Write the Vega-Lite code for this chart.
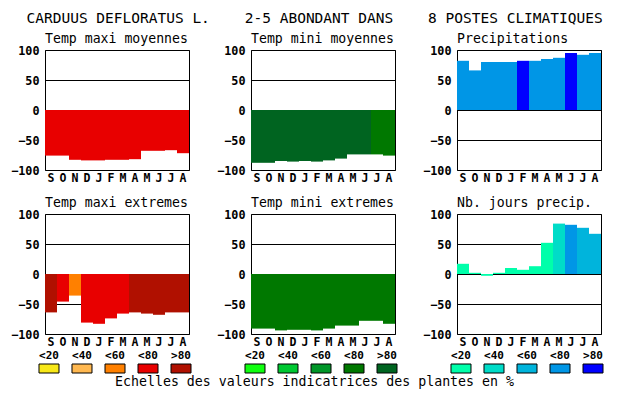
{
  "$schema": "https://vega.github.io/schema/vega-lite/v6.json",
  "background": "white",
  "padding": {"left": 10, "top": 10, "right": 10, "bottom": 2},
  "config": {
    "font": "DejaVu Sans Mono",
    "view": {"stroke": "black", "strokeWidth": 1},
    "title": {"color": "black", "fontWeight": "normal", "font": "DejaVu Sans Mono"},
    "axis": {"labelColor": "black", "labelFont": "DejaVu Sans Mono", "labelFontWeight": "bold", "ticks": false, "domain": false, "title": null},
    "axisY": {"values": [-100, -50, 0, 50, 100], "grid": true, "gridColor": "black", "gridOpacity": 1, "gridWidth": 1, "labelFontSize": 11.75, "labelPadding": 6, "labelFlush": false, "zindex": 1},
    "axisX": {"labelAngle": 0, "labelFontSize": 11.5, "labelPadding": 2, "grid": false},
    "bar": {"strokeWidth": 0}
  },
  "title": {"text": "CARDUUS DEFLORATUS L.\u00a0\u00a0\u00a0\u00a02-5 ABONDANT DANS\u00a0\u00a0\u00a0\u00a08 POSTES CLIMATIQUES", "fontSize": 14.5, "anchor": "middle", "offset": 5, "dx": 5},
  "datasets": {
    "tmaxmoy": [
      {"mois": "Sept", "v": -76, "cls": "<80"}, {"mois": "Oct", "v": -76, "cls": "<80"}, {"mois": "Nov", "v": -83, "cls": "<80"},
      {"mois": "Déc", "v": -84, "cls": "<80"}, {"mois": "Janv", "v": -84, "cls": "<80"}, {"mois": "Févr", "v": -83, "cls": "<80"},
      {"mois": "Mars", "v": -83, "cls": "<80"}, {"mois": "Avr", "v": -82, "cls": "<80"}, {"mois": "Mai", "v": -68, "cls": "<80"},
      {"mois": "Juin", "v": -68, "cls": "<80"}, {"mois": "Juil", "v": -67, "cls": "<80"}, {"mois": "Août", "v": -72, "cls": "<80"}
    ],
    "tminmoy": [
      {"mois": "Sept", "v": -88, "cls": ">80"}, {"mois": "Oct", "v": -88, "cls": ">80"}, {"mois": "Nov", "v": -85, "cls": ">80"},
      {"mois": "Déc", "v": -86, "cls": ">80"}, {"mois": "Janv", "v": -85, "cls": ">80"}, {"mois": "Févr", "v": -86, "cls": ">80"},
      {"mois": "Mars", "v": -84, "cls": ">80"}, {"mois": "Avr", "v": -81, "cls": ">80"}, {"mois": "Mai", "v": -74, "cls": ">80"},
      {"mois": "Juin", "v": -74, "cls": ">80"}, {"mois": "Juil", "v": -74, "cls": "<80"}, {"mois": "Août", "v": -76, "cls": "<80"}
    ],
    "precip": [
      {"mois": "Sept", "v": 82, "cls": "<80"}, {"mois": "Oct", "v": 66, "cls": "<80"}, {"mois": "Nov", "v": 80, "cls": "<80"},
      {"mois": "Déc", "v": 80, "cls": "<80"}, {"mois": "Janv", "v": 80, "cls": "<80"}, {"mois": "Févr", "v": 82, "cls": ">80"},
      {"mois": "Mars", "v": 82, "cls": "<80"}, {"mois": "Avr", "v": 85, "cls": "<80"}, {"mois": "Mai", "v": 87, "cls": "<80"},
      {"mois": "Juin", "v": 95, "cls": ">80"}, {"mois": "Juil", "v": 92, "cls": "<80"}, {"mois": "Août", "v": 95, "cls": "<80"}
    ],
    "tmaxext": [
      {"mois": "Sept", "v": -64, "cls": ">80"}, {"mois": "Oct", "v": -46, "cls": "<80"}, {"mois": "Nov", "v": -36, "cls": "<60"},
      {"mois": "Déc", "v": -81, "cls": "<80"}, {"mois": "Janv", "v": -83, "cls": "<80"}, {"mois": "Févr", "v": -74, "cls": "<80"},
      {"mois": "Mars", "v": -66, "cls": "<80"}, {"mois": "Avr", "v": -64, "cls": ">80"}, {"mois": "Mai", "v": -66, "cls": ">80"},
      {"mois": "Juin", "v": -68, "cls": ">80"}, {"mois": "Juil", "v": -64, "cls": ">80"}, {"mois": "Août", "v": -64, "cls": ">80"}
    ],
    "tminext": [
      {"mois": "Sept", "v": -91, "cls": "<80"}, {"mois": "Oct", "v": -91, "cls": "<80"}, {"mois": "Nov", "v": -94, "cls": "<80"},
      {"mois": "Déc", "v": -93, "cls": "<80"}, {"mois": "Janv", "v": -93, "cls": "<80"}, {"mois": "Févr", "v": -94, "cls": "<80"},
      {"mois": "Mars", "v": -91, "cls": "<80"}, {"mois": "Avr", "v": -86, "cls": "<80"}, {"mois": "Mai", "v": -86, "cls": "<80"},
      {"mois": "Juin", "v": -78, "cls": "<80"}, {"mois": "Juil", "v": -78, "cls": "<80"}, {"mois": "Août", "v": -83, "cls": "<80"}
    ],
    "njours": [
      {"mois": "Sept", "v": 17, "cls": "<20"}, {"mois": "Oct", "v": 2, "cls": "<20"}, {"mois": "Nov", "v": -3, "cls": "<20"},
      {"mois": "Déc", "v": 2, "cls": "<20"}, {"mois": "Janv", "v": 10, "cls": "<20"}, {"mois": "Févr", "v": 7, "cls": "<20"},
      {"mois": "Mars", "v": 13, "cls": "<20"}, {"mois": "Avr", "v": 52, "cls": "<20"}, {"mois": "Mai", "v": 84, "cls": "<40"},
      {"mois": "Juin", "v": 82, "cls": "<80"}, {"mois": "Juil", "v": 77, "cls": "<60"}, {"mois": "Août", "v": 67, "cls": "<60"}
    ],
    "classes": [{"cls": "<20"}, {"cls": "<40"}, {"cls": "<60"}, {"cls": "<80"}, {"cls": ">80"}]
  },
  "bounds": "flush",
  "columns": 3,
  "spacing": {"row": 44, "column": 54},
  "resolve": {"scale": {"color": "independent"}},
  "concat": [
    {
      "width": 144, "height": 120,
      "title": {"text": "Temp maxi moyennes", "anchor": "start", "frame": "group", "fontSize": 13.2, "offset": -1},
      "data": {"name": "tmaxmoy"},
      "mark": "bar",
      "encoding": {
        "x": {"field": "mois", "type": "nominal", "sort": ["Sept","Oct","Nov","Déc","Janv","Févr","Mars","Avr","Mai","Juin","Juil","Août"], "scale": {"paddingInner": 0, "paddingOuter": 0}, "axis": {"labelExpr": "upper(substring(datum.label,0,1))"}, "title": null},
        "y": {"field": "v", "type": "quantitative", "scale": {"domain": [-100, 100], "nice": false}, "title": null},
        "color": {"field": "cls", "type": "nominal", "scale": {"domain": ["<20","<40","<60","<80",">80"], "range": ["#f8e818","#ffb850","#ff8000","#e80000","#b01000"]}, "legend": null}
      }
    },
    {
      "width": 144, "height": 120,
      "title": {"text": "Temp mini moyennes", "anchor": "start", "frame": "group", "fontSize": 13.2, "offset": -1},
      "data": {"name": "tminmoy"},
      "mark": "bar",
      "encoding": {
        "x": {"field": "mois", "type": "nominal", "sort": ["Sept","Oct","Nov","Déc","Janv","Févr","Mars","Avr","Mai","Juin","Juil","Août"], "scale": {"paddingInner": 0, "paddingOuter": 0}, "axis": {"labelExpr": "upper(substring(datum.label,0,1))"}, "title": null},
        "y": {"field": "v", "type": "quantitative", "scale": {"domain": [-100, 100], "nice": false}, "title": null},
        "color": {"field": "cls", "type": "nominal", "scale": {"domain": ["<20","<40","<60","<80",">80"], "range": ["#10ff10","#00c832","#009628","#007800","#006420"]}, "legend": null}
      }
    },
    {
      "width": 144, "height": 120,
      "title": {"text": "Precipitations", "anchor": "start", "frame": "group", "fontSize": 13.2, "offset": -1},
      "data": {"name": "precip"},
      "mark": "bar",
      "encoding": {
        "x": {"field": "mois", "type": "nominal", "sort": ["Sept","Oct","Nov","Déc","Janv","Févr","Mars","Avr","Mai","Juin","Juil","Août"], "scale": {"paddingInner": 0, "paddingOuter": 0}, "axis": {"labelExpr": "upper(substring(datum.label,0,1))"}, "title": null},
        "y": {"field": "v", "type": "quantitative", "scale": {"domain": [-100, 100], "nice": false}, "title": null},
        "color": {"field": "cls", "type": "nominal", "scale": {"domain": ["<20","<40","<60","<80",">80"], "range": ["#00ffaa","#00dcc8","#00b4dc","#0096e6","#0000ff"]}, "legend": null}
      }
    },
    {
      "width": 144, "height": 120,
      "title": {"text": "Temp maxi extremes", "anchor": "start", "frame": "group", "fontSize": 13.2, "offset": -1},
      "data": {"name": "tmaxext"},
      "mark": "bar",
      "encoding": {
        "x": {"field": "mois", "type": "nominal", "sort": ["Sept","Oct","Nov","Déc","Janv","Févr","Mars","Avr","Mai","Juin","Juil","Août"], "scale": {"paddingInner": 0, "paddingOuter": 0}, "axis": {"labelExpr": "upper(substring(datum.label,0,1))"}, "title": null},
        "y": {"field": "v", "type": "quantitative", "scale": {"domain": [-100, 100], "nice": false}, "title": null},
        "color": {"field": "cls", "type": "nominal", "scale": {"domain": ["<20","<40","<60","<80",">80"], "range": ["#f8e818","#ffb850","#ff8000","#e80000","#b01000"]}, "legend": null}
      }
    },
    {
      "width": 144, "height": 120,
      "title": {"text": "Temp mini extremes", "anchor": "start", "frame": "group", "fontSize": 13.2, "offset": -1},
      "data": {"name": "tminext"},
      "mark": "bar",
      "encoding": {
        "x": {"field": "mois", "type": "nominal", "sort": ["Sept","Oct","Nov","Déc","Janv","Févr","Mars","Avr","Mai","Juin","Juil","Août"], "scale": {"paddingInner": 0, "paddingOuter": 0}, "axis": {"labelExpr": "upper(substring(datum.label,0,1))"}, "title": null},
        "y": {"field": "v", "type": "quantitative", "scale": {"domain": [-100, 100], "nice": false}, "title": null},
        "color": {"field": "cls", "type": "nominal", "scale": {"domain": ["<20","<40","<60","<80",">80"], "range": ["#10ff10","#00c832","#009628","#007800","#006420"]}, "legend": null}
      }
    },
    {
      "width": 144, "height": 120,
      "title": {"text": "Nb. jours precip.", "anchor": "start", "frame": "group", "fontSize": 13.2, "offset": -1},
      "data": {"name": "njours"},
      "mark": "bar",
      "encoding": {
        "x": {"field": "mois", "type": "nominal", "sort": ["Sept","Oct","Nov","Déc","Janv","Févr","Mars","Avr","Mai","Juin","Juil","Août"], "scale": {"paddingInner": 0, "paddingOuter": 0}, "axis": {"labelExpr": "upper(substring(datum.label,0,1))"}, "title": null},
        "y": {"field": "v", "type": "quantitative", "scale": {"domain": [-100, 100], "nice": false}, "title": null},
        "color": {"field": "cls", "type": "nominal", "scale": {"domain": ["<20","<40","<60","<80",">80"], "range": ["#00ffaa","#00dcc8","#00b4dc","#0096e6","#0000ff"]}, "legend": null}
      }
    },
    {
      "width": 152, "height": 9,
      "view": {"stroke": null},
      "data": {"name": "classes"},
      "mark": {"type": "point", "shape": "M-1,-0.45H1V0.45H-1Z", "size": 400, "filled": true, "opacity": 1, "stroke": "black", "strokeWidth": 1, "xOffset": -6, "yOffset": -14},
      "encoding": {
        "x": {"field": "cls", "type": "nominal", "sort": ["<20","<40","<60","<80",">80"], "scale": {"type": "band", "paddingInner": 0.394, "paddingOuter": 0}, "axis": {"orient": "top", "offset": 14, "labelOffset": -6, "labelPadding": 4, "labelFontSize": 11}, "title": null},
        "color": {"field": "cls", "type": "nominal", "scale": {"domain": ["<20","<40","<60","<80",">80"], "range": ["#f8e818","#ffb850","#ff8000","#e80000","#b01000"]}, "legend": null}
      }
    },
    {
      "width": 152, "height": 9,
      "view": {"stroke": null},
      "title": {"text": "Echelles des valeurs indicatrices des plantes en %", "orient": "bottom", "anchor": "middle", "frame": "group", "fontSize": 13.25, "offset": -11, "dx": -12.5},
      "data": {"name": "classes"},
      "mark": {"type": "point", "shape": "M-1,-0.45H1V0.45H-1Z", "size": 400, "filled": true, "opacity": 1, "stroke": "black", "strokeWidth": 1, "xOffset": -6, "yOffset": -14},
      "encoding": {
        "x": {"field": "cls", "type": "nominal", "sort": ["<20","<40","<60","<80",">80"], "scale": {"type": "band", "paddingInner": 0.394, "paddingOuter": 0}, "axis": {"orient": "top", "offset": 14, "labelOffset": -6, "labelPadding": 4, "labelFontSize": 11}, "title": null},
        "color": {"field": "cls", "type": "nominal", "scale": {"domain": ["<20","<40","<60","<80",">80"], "range": ["#10ff10","#00c832","#009628","#007800","#006420"]}, "legend": null}
      }
    },
    {
      "width": 152, "height": 9,
      "view": {"stroke": null},
      "data": {"name": "classes"},
      "mark": {"type": "point", "shape": "M-1,-0.45H1V0.45H-1Z", "size": 400, "filled": true, "opacity": 1, "stroke": "black", "strokeWidth": 1, "xOffset": -6, "yOffset": -14},
      "encoding": {
        "x": {"field": "cls", "type": "nominal", "sort": ["<20","<40","<60","<80",">80"], "scale": {"type": "band", "paddingInner": 0.394, "paddingOuter": 0}, "axis": {"orient": "top", "offset": 14, "labelOffset": -6, "labelPadding": 4, "labelFontSize": 11}, "title": null},
        "color": {"field": "cls", "type": "nominal", "scale": {"domain": ["<20","<40","<60","<80",">80"], "range": ["#00ffaa","#00dcc8","#00b4dc","#0096e6","#0000ff"]}, "legend": null}
      }
    }
  ]
}
